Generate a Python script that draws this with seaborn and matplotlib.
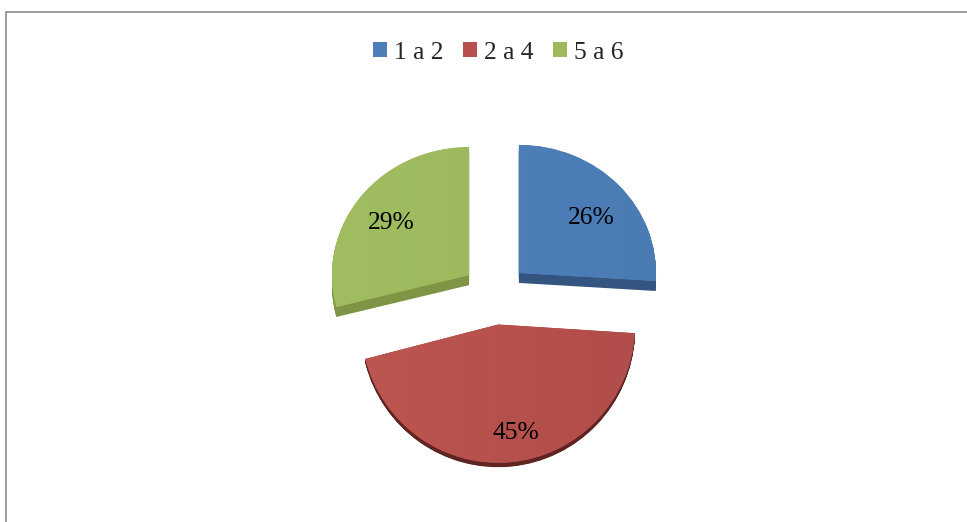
import matplotlib
matplotlib.use("Agg")
import matplotlib.pyplot as plt
import numpy as np
import seaborn as sns
from matplotlib.colors import LinearSegmentedColormap
from matplotlib.lines import Line2D
from matplotlib.transforms import Affine2D

# dados
faixas = ['1 a 2', '2 a 4', '5 a 6']
valores = [26, 45, 29]

cores = ['#4e7fb9', '#b8504d', '#9cba5c']
cores_claras = ['#5082bd', '#bf5651', '#a0bd62']
cores_escuras = ['#4b7bb3', '#af4c49', '#98b657']
cores_lado = ['#34557f', '#5f2523', '#7f9444']

sns.set_theme(style='white')
plt.rcParams['font.family'] = ['Liberation Serif', 'DejaVu Serif']

paleta = sns.color_palette(cores)
paleta_lado = sns.color_palette(cores_lado)

W, H = 967, 522
fig = plt.figure(figsize=(W / 100, H / 100), dpi=100, facecolor='white')
ax = fig.add_axes([0, 0, 1, 1])

explode = [0.24, 0.24, 0.24]
cx, cy, rx, ry = 495, 294, 137, 128

# a fatia da frente fica maior por causa da perspectiva
ya = -0.245
perspectiva = Affine2D().translate(0, -ya).scale(1, 1.08).translate(0, ya) + ax.transData


def lateral(cores_fatia, altura):
    # empilha copias da fatia para simular a espessura 3D
    saida = []
    for k in range(1, 13):
        w, _ = ax.pie(valores, explode=explode, colors=cores_fatia, startangle=90,
                      counterclock=False, center=(0, -altura * k / 12),
                      wedgeprops={'linewidth': 0})
        saida.append(w[1])
    return saida


lateral([paleta_lado[0], 'none', paleta_lado[2]], 0.078)
for w in lateral(['none', paleta_lado[1], 'none'], 0.032):
    w.set_transform(perspectiva)

wedges, textos, pct = ax.pie(valores, explode=explode, colors=paleta, startangle=90,
                             counterclock=False, autopct='%.0f%%', pctdistance=0.7,
                             wedgeprops={'linewidth': 0},
                             textprops={'fontsize': 18.4, 'color': 'black', 'zorder': 5})
wedges[1].set_transform(perspectiva)

# degrade leve na face de cada fatia
gradiente = np.linspace(0, 1, 256).reshape(1, -1)
for w, clara, escura in zip(wedges, cores_claras, cores_escuras):
    cmap = LinearSegmentedColormap.from_list('face', [clara, escura])
    im = ax.imshow(gradiente, cmap=cmap, extent=(-1.3, 1.3, -1.4, 1.4), aspect='auto', zorder=2)
    im.set_clip_path(w)

# ajuste fino dos rotulos (ordem: 26%, 45%, 29%)
ajustes = [(0.015, -0.05), (0.065, -0.15), (-0.015, -0.02)]
for t, (dx, dy) in zip(pct, ajustes):
    x, y = t.get_position()
    t.set_position((x + dx, y + dy))

ax.set_aspect('auto')
ax.set_xlim(-cx / rx, (W - cx) / rx)
ax.set_ylim((cy - H) / ry, cy / ry)
ax.axis('off')

ax.legend(wedges, faixas, ncol=3, loc='center', bbox_to_anchor=(498 / W, 1 - 53 / H),
          frameon=False, fontsize=18.4, handlelength=0.56, handleheight=0.52,
          handletextpad=0.26, columnspacing=0.76, borderpad=0, labelspacing=0)

# moldura cinza (so topo e esquerda aparecem no recorte)
fig.add_artist(Line2D([5.5 / W, 5.5 / W, 1], [0, 1 - 11.5 / H, 1 - 11.5 / H],
                      color='#8c8c8c', linewidth=1.2, transform=fig.transFigure))

fig.savefig('out.png', dpi=100, facecolor='white')
